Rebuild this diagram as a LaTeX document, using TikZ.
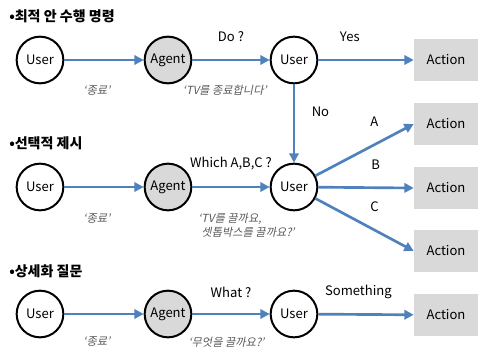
\documentclass[tikz,border=0pt]{standalone}
\usepackage{fontspec}
\setmainfont{Noto Sans CJK KR}
\newfontfamily\slantkr[FakeSlant=0.2]{Noto Sans CJK KR}
\usetikzlibrary{arrows.meta}
\definecolor{flowblue}{RGB}{79,129,189}
\definecolor{boxgray}{RGB}{217,217,217}
\definecolor{saidgray}{RGB}{89,89,89}

\begin{document}
\begin{tikzpicture}[x=0.75pt,y=-0.75pt]
\tikzstyle{every node}=[font=\fontsize{9.8}{12}\selectfont];
\tikzstyle{head}=[anchor=west,inner sep=0pt,font=\fontsize{10.5}{12}\selectfont\bfseries];
\tikzstyle{person}=[draw,circle,line width=1.5pt,minimum size=35pt,inner sep=0pt];
\tikzstyle{agent}=[person,fill=boxgray];
\tikzstyle{action}=[fill=boxgray,minimum width=48pt,minimum height=32pt,inner sep=0pt];
\tikzstyle{flow}=[draw=flowblue,line width=2pt,-{Triangle[length=7pt,width=7pt]}];
\tikzstyle{ask}=[yshift=17.5pt];
\tikzstyle{said}=[text=saidgray,font=\fontsize{8.4}{10.5}\selectfont\slantkr];
\useasboundingbox (0,0) rectangle (479,350);

% headings
\node[head] (h1) at (9,16) {•최적 안 수행 명령};
\node[head] (h2) at (9,143) {•선택적 제시};
\node[head] (h3) at (9,271) {•상세화 질문};

% first row
\node[person] (u1) at (40,60) {User};
\node[agent] (g1) at (168,60) {Agent};
\node[person] (v1) at (294,60) {User};
\node[action] (x1) at (446,60) {Action};
\draw[flow] (u1) -- node[said,pos=0.41,yshift=-23pt] {‘종료’} (g1);
\draw[flow] (g1) -- node[ask] {Do ?}
	node[said,pos=0.42,yshift=-23pt] {‘TV를 종료합니다’} (v1);
\draw[flow] (v1) -- node[ask,pos=0.33] {Yes} (x1);

% second row
\node[person] (u2) at (40,187) {User};
\node[agent] (g2) at (168,187) {Agent};
\node[person] (v2) at (294,187) {User};
\node[action] (x2a) at (446,124) {Action};
\node[action] (x2b) at (446,188) {Action};
\node[action] (x2c) at (446,251) {Action};
\draw[flow] (v1) -- node[pos=0.35,right=9pt] {No} (v2);
\draw[flow] (u2) -- node[said,pos=0.41,yshift=-24pt] {‘종료’} (g2);
\draw[flow] (g2) -- node[ask] {Which A,B,C ?}
	node[said,pos=0.7,yshift=-28.5pt,align=left] {‘TV를 끌까요,\\\phantom{‘}셋톱박스를 끌까요?’} (v2);
\draw[flow] (v2) -- node[ask,pos=0.6] {A} (x2a.west);
\draw[flow] (v2) -- node[ask,pos=0.6] {B} (x2b.west);
\draw[flow] (v2) -- node[ask,pos=0.6] {C} (x2c.west);

% third row
\node[person] (u3) at (40,314) {User};
\node[agent] (g3) at (168,314) {Agent};
\node[person] (v3) at (294,314) {User};
\node[action] (x3) at (446,315) {Action};
\draw[flow] (u3) -- node[said,pos=0.41,yshift=-21pt] {‘종료’} (g3);
\draw[flow] (g3) -- node[ask,yshift=-1pt] {What ?}
	node[said,pos=0.44,yshift=-21pt] {‘무엇을 끌까요?’} (v3);
\draw[flow] (v3) -- node[ask,pos=0.42,yshift=-1pt] {Something} (x3);
\end{tikzpicture}
\end{document}
